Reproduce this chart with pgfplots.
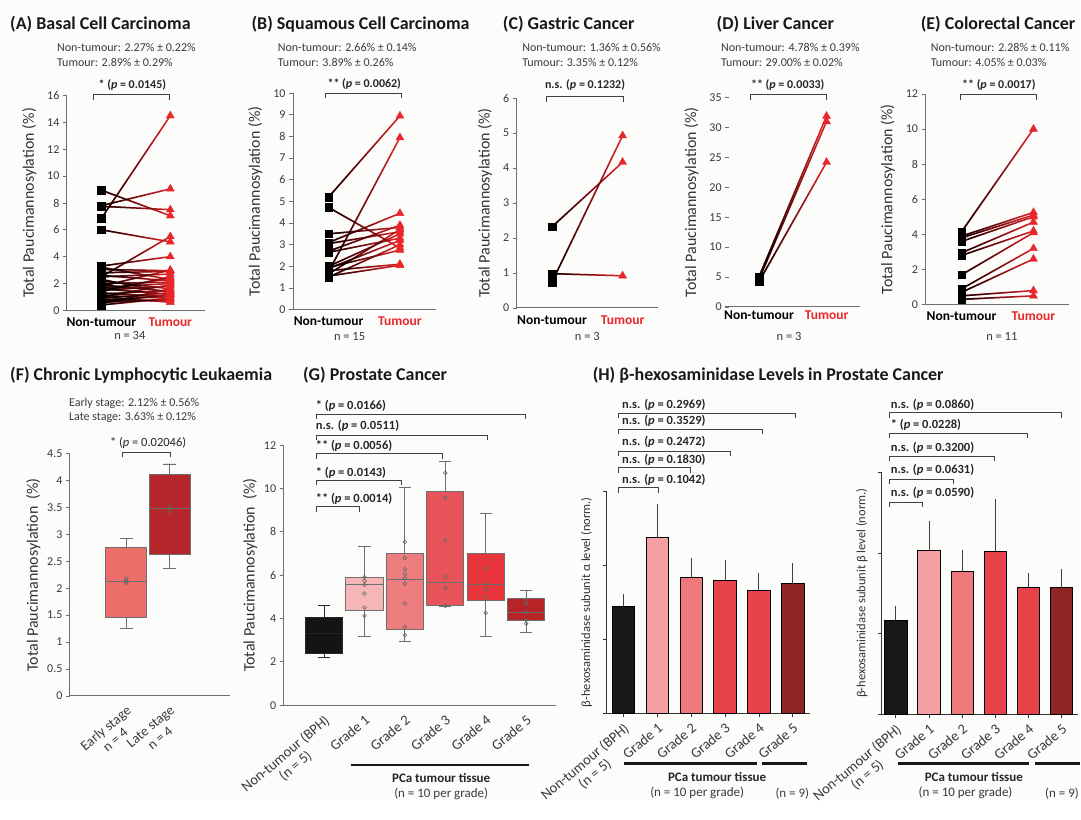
\documentclass[border=0pt]{standalone}
\usepackage{pgfplots}
\pgfplotsset{compat=1.18}
\usepackage{pgfplotstable}
\usepgfplotslibrary{statistics}
\usetikzlibrary{fadings}
\usepackage{fontspec}
\setmainfont{Carlito}
\definecolor{bg}{HTML}{FCFCFA}
\definecolor{tred}{HTML}{E8262B}
\definecolor{lred}{HTML}{E82025}
\definecolor{txt}{HTML}{3A3A3A}
\definecolor{axc}{HTML}{6E6E6E}
\definecolor{fE}{HTML}{EC6F6C}
\definecolor{fL}{HTML}{B5262A}
\definecolor{g0}{HTML}{141414}
\definecolor{g1}{HTML}{F6B6B8}
\definecolor{g2}{HTML}{EE7D80}
\definecolor{g3}{HTML}{E9545A}
\definecolor{g4}{HTML}{E8353B}
\definecolor{g5}{HTML}{B62427}
\definecolor{h0}{HTML}{161816}
\definecolor{h1}{HTML}{F49FA3}
\definecolor{h2}{HTML}{EE797D}
\definecolor{h3}{HTML}{E8434A}
\definecolor{h4}{HTML}{E8434A}
\definecolor{h5}{HTML}{8E2424}

% paired data: non-tumour (nt) and tumour (t)
\pgfplotstableread{
nt t
6.85 14.5
8.95 7.05
7.8 9.05
7.75 7.5
6.0 5.1
2.5 5.5
3.3 4.0
3.05 2.95
2.8 2.9
2.6 2.2
2.5 2.7
2.2 1.6
2.0 2.1
1.9 1.4
1.8 3.0
1.7 2.0
1.6 1.2
1.5 1.8
1.4 2.5
1.3 1.0
1.2 1.5
1.1 0.9
1.0 1.9
0.9 1.3
0.8 0.7
0.7 1.1
0.6 0.8
0.5 1.6
0.4 0.9
1.5 2.4
2.3 1.3
1.0 0.6
3.2 2.3
0.6 1.2
}\dataA
\pgfplotstableread{
nt t
5.2 8.95
4.72 2.85
1.75 7.95
3.5 3.8
3.1 4.45
3.05 3.6
2.7 3.9
2.65 3.3
2.0 3.5
1.9 3.2
1.8 2.1
1.65 3.7
1.55 2.05
1.5 3.0
1.95 2.75
}\dataB
\pgfplotstableread{
nt t
2.32 4.17
0.74 4.93
0.98 0.92
}\dataC
\pgfplotstableread{
nt t
5.0 31.9
4.6 31.0
4.2 24.2
}\dataD
\pgfplotstableread{
nt t
4.15 10.0
3.9 5.25
3.8 5.1
3.6 5.0
2.95 4.7
2.8 4.2
1.7 4.1
0.9 3.2
0.7 2.6
0.5 0.8
0.3 0.5
}\dataE

\pgfplotsset{
  top/.style={scale only axis, anchor=south west, clip=false,
    axis x line*=bottom, axis y line*=left,
    axis line style={-, axc, line width=0.9pt},
    xmin=0.5, xmax=2.5, ymin=0,
    xtick={1,2}, xticklabels={Non-tumour, {\color{tred}Tumour}},
    x tick label style={font=\fontsize{13.5}{15}\selectfont\bfseries, text=black},
    major x tick style={draw=none},
    tick align=outside, major tick length=4pt,
    y tick style={axc, line width=0.7pt},
    y tick label style={font=\fontsize{12}{14}\selectfont, text=txt},
    ylabel={Total Paucimannosylation (\%)},
    ylabel style={font=\fontsize{16}{18}\selectfont, text=black!80, yshift=4pt},
    /pgf/number format/assume math mode=true,
  },
  lines/.style={quiver={u=1, v=\thisrow{t}-\thisrow{nt}}, line width=1.5pt, no markers},
  fadelines/.style={quiver={u=1, v=\thisrow{t}-\thisrow{nt}, every arrow/.append style={path fading=east}}, line width=1.5pt, no markers, black},
  sq/.style={only marks, mark=square*, mark size=3.8pt, black},
  tri/.style={only marks, mark=triangle*, mark size=4.6pt, tred},
  bottom/.style={scale only axis, anchor=south west, clip=false,
    axis x line*=bottom, axis y line*=left,
    axis line style={-, axc, line width=0.9pt},
    ymin=0,
    x tick label style={rotate=40, anchor=north east, align=center, font=\fontsize{14.5}{15.5}\selectfont, text=txt},
    tick align=outside, major tick length=4pt,
    tick style={axc, line width=0.7pt},
    y tick label style={font=\fontsize{12}{14}\selectfont, text=txt},
    ylabel style={font=\fontsize{16}{18}\selectfont, text=black!80},
    /pgf/number format/assume math mode=true,
  },
  bx/.style={boxplot prepared={#1, whisker extend=0.3, draw direction=y}, draw=axc, line width=0.9pt},
  pts/.style={only marks, mark=o, mark size=1.9pt, draw=black!60, mark options={line width=0.6pt}},
  hb/.style={ybar, bar shift=0pt, bar width=#1, draw=black, line width=0.7pt,
    error bars/y dir=plus, error bars/y explicit,
    error bars/error bar style={black!75, line width=0.9pt},
    error bars/error mark options={black!75, mark size=6pt, line width=0.9pt}},
  hax/.style={bottom, axis line style={-, black!80, line width=0.9pt},
    tick style={black!80, line width=0.8pt},
    xmin=-0.5, xmax=5.5, ymax=1.5, ytick={0,0.5,1,1.5}, yticklabels={},
    xtick={0,1,2,3,4,5},
    xticklabels={{Non-tumour (BPH)\\(n = 5)},Grade 1,Grade 2,Grade 3,Grade 4,Grade 5},
    ylabel style={font=\fontsize{12.5}{14}\selectfont, text=black!80}},
}

\tikzset{brk/.style={line width=0.9pt, black!75}}
\newcommand{\brk}[3]{\draw[brk] (#1,#3+5) -- (#1,#3) -- (#2,#3) -- (#2,#3+5);}

\begin{document}
\begin{tikzpicture}
\begin{scope}[x=1pt,y=-1pt]
\useasboundingbox (0,0) rectangle (1081,801);
\fill[bg] (0,0) rectangle (1081,801);
\end{scope}

% (A)
\begin{axis}[top, at={(67pt,-310.7pt)}, width=138pt, height=215pt, ymax=16, ytick={0,2,4,6,8,10,12,14,16}]
\addplot[lines, lred] table[x expr=1, y=nt] {\dataA};
\addplot[fadelines] table[x expr=1, y=nt] {\dataA};
\addplot[sq] table[x expr=1, y=nt] {\dataA};
\addplot[tri] table[x expr=2, y=t] {\dataA};
\end{axis}
% (B)
\begin{axis}[top, at={(293.3pt,-310pt)}, width=142.8pt, height=216.7pt, ymax=10, ytick={0,1,2,3,4,5,6,7,8,9,10}]
\addplot[lines, lred] table[x expr=1, y=nt] {\dataB};
\addplot[fadelines] table[x expr=1, y=nt] {\dataB};
\addplot[sq] table[x expr=1, y=nt] {\dataB};
\addplot[tri] table[x expr=2, y=t] {\dataB};
\end{axis}
% (C)
\begin{axis}[top, at={(517.3pt,-308.3pt)}, width=141.4pt, height=210pt, ymax=6, ytick={0,1,2,3,4,5,6}]
\addplot[lines, lred] table[x expr=1, y=nt] {\dataC};
\addplot[fadelines] table[x expr=1, y=nt] {\dataC};
\addplot[sq] table[x expr=1, y=nt] {\dataC};
\addplot[tri] table[x expr=2, y=t] {\dataC};
\end{axis}
% (D)
\begin{axis}[top, at={(726pt,-307.3pt)}, width=135.4pt, height=209.6pt, ymax=35, ytick={0,5,10,15,20,25,30,35},
  y axis line style={draw=none}, tick align=inside]
\addplot[lines, lred] table[x expr=1, y=nt] {\dataD};
\addplot[fadelines] table[x expr=1, y=nt] {\dataD};
\addplot[sq] table[x expr=1, y=nt] {\dataD};
\addplot[tri] table[x expr=2, y=t] {\dataD};
\end{axis}
% (E)
\begin{axis}[top, at={(926.7pt,-305pt)}, width=144pt, height=211pt, ymax=12, ytick={0,2,4,6,8,10,12}]
\addplot[lines, lred] table[x expr=1, y=nt] {\dataE};
\addplot[fadelines] table[x expr=1, y=nt] {\dataE};
\addplot[sq] table[x expr=1, y=nt] {\dataE};
\addplot[tri] table[x expr=2, y=t] {\dataE};
\end{axis}

% (F)
\begin{axis}[bottom, at={(70pt,-696.7pt)}, width=160pt, height=242.4pt,
  xmin=-0.288, xmax=3.373, ymax=4.5, ytick={0,0.5,1,1.5,2,2.5,3,3.5,4,4.5},
  xtick={1,2}, xticklabels={{Early stage\\n = 4},{Late stage\\n = 4}}, major x tick style={draw=none},
  x tick label style={font=\fontsize{14}{15}\selectfont},
  ylabel={Total Paucimannosylation\ \ (\%)}]
\addplot[bx={draw position=1, lower whisker=1.25, lower quartile=1.46, median=2.13, upper quartile=2.75, upper whisker=2.93, box extend=0.93}, fill=fE] coordinates {};
\addplot[bx={draw position=2, lower whisker=2.36, lower quartile=2.62, median=3.48, upper quartile=4.12, upper whisker=4.31, box extend=0.93}, fill=fL] coordinates {};
\addplot[pts] coordinates {(1,2.10) (1,2.14) (1,2.18) (2,3.43) (2,3.50)};
\end{axis}

% (G)
\begin{axis}[bottom, at={(284pt,-706pt)}, width=272.7pt, height=260.3pt,
  xmin=-1.0, xmax=5.74, ymax=12, ytick={0,2,4,6,8,10,12},
  xtick={0,1,2,3,4,5}, xticklabels={{Non-tumour (BPH)\\(n = 5)},Grade 1,Grade 2,Grade 3,Grade 4,Grade 5},
  major x tick style={draw=none},
  ylabel={Total Paucimannosylation\ \ (\%)}]
\addplot[bx={draw position=0, lower whisker=2.20, lower quartile=2.40, median=3.30, upper quartile=4.04, upper whisker=4.58, box extend=0.92}, fill=g0, draw=black!85] coordinates {};
\addplot[bx={draw position=1, lower whisker=3.16, lower quartile=4.38, median=5.55, upper quartile=5.88, upper whisker=7.31, box extend=0.92}, fill=g1] coordinates {};
\addplot[bx={draw position=2, lower whisker=2.93, lower quartile=3.50, median=5.78, upper quartile=6.99, upper whisker=10.03, box extend=0.92}, fill=g2] coordinates {};
\addplot[bx={draw position=3, lower whisker=4.55, lower quartile=4.58, median=5.65, upper quartile=9.88, upper whisker=11.26, box extend=0.92}, fill=g3] coordinates {};
\addplot[bx={draw position=4, lower whisker=3.16, lower quartile=4.81, median=5.55, upper quartile=7.00, upper whisker=8.83, box extend=0.92}, fill=g4] coordinates {};
\addplot[bx={draw position=5, lower whisker=3.35, lower quartile=3.89, median=4.30, upper quartile=4.92, upper whisker=5.31, box extend=0.92}, fill=g5] coordinates {};
\addplot[pts] coordinates {(1,5.91) (1,5.73) (1,5.55) (1,5.15) (1,4.50) (1,4.12)
 (2,7.53) (2,6.80) (2,6.27) (2,6.04) (2,5.85) (2,5.61) (2,4.69) (2,3.61) (2,3.23)
 (3,10.72) (3,9.57) (3,7.60) (3,5.93) (3,5.39) (3,4.58)
 (4,6.31) (4,5.61) (4,5.35) (4,4.99) (4,4.25)
 (5,4.84) (5,4.65) (5,4.27) (5,3.93) (5,3.76)};
\end{axis}

% (H) alpha
\begin{axis}[hax, at={(607.3pt,-714pt)}, width=203.4pt, height=222.3pt,
  ylabel={β-hexosaminidase subunit α level (norm.)}]
\addplot[fill=h0, hb=22.7pt] coordinates {(0,0.724) +- (0,0.041)};
\addplot[fill=h1, hb=22.7pt] coordinates {(1,1.190) +- (0,0.184)};
\addplot[fill=h2, hb=22.7pt] coordinates {(2,0.915) +- (0,0.095)};
\addplot[fill=h3, hb=22.7pt] coordinates {(3,0.897) +- (0,0.095)};
\addplot[fill=h4, hb=22.7pt] coordinates {(4,0.830) +- (0,0.078)};
\addplot[fill=h5, hb=22.7pt] coordinates {(5,0.875) +- (0,0.099)};
\end{axis}

% (H) beta
\begin{axis}[hax, at={(883pt,-715pt)}, width=196.5pt, height=242pt, xmin=-0.42,
  ylabel={β-hexosaminidase subunit β level (norm.)}]
\addplot[fill=h0, hb=22.4pt] coordinates {(0,0.585) +- (0,0.049)};
\addplot[fill=h1, hb=22.4pt] coordinates {(1,1.019) +- (0,0.142)};
\addplot[fill=h2, hb=22.4pt] coordinates {(2,0.885) +- (0,0.099)};
\addplot[fill=h3, hb=22.4pt] coordinates {(3,1.011) +- (0,0.285)};
\addplot[fill=h4, hb=22.4pt] coordinates {(4,0.789) +- (0,0.052)};
\addplot[fill=h5, hb=22.4pt] coordinates {(5,0.785) +- (0,0.079)};
\end{axis}

\begin{scope}[x=1pt,y=-1pt]
\tikzset{ttl/.style={anchor=west, inner sep=0pt, font=\fontsize{18}{20}\selectfont\bfseries, text=black!90},
  st/.style={anchor=west, inner sep=0pt, font=\fontsize{12}{14}\selectfont, text=txt},
  pl/.style={inner sep=0pt, font=\fontsize{12}{14}\selectfont\bfseries, text=black!85},
  nn/.style={inner sep=0pt, font=\fontsize{12.5}{14}\selectfont, text=txt},
  bl/.style={anchor=west, inner sep=0pt, font=\fontsize{12.5}{14}\selectfont\bfseries, text=black!85}}
\node[ttl] at (10,24) {(A) Basal Cell Carcinoma};
\node[ttl] at (251.7,24) {(B) Squamous Cell Carcinoma};
\node[ttl] at (503.3,24) {(C) Gastric Cancer};
\node[ttl] at (717.3,24) {(D) Liver Cancer};
\node[ttl] at (921.7,24) {(E) Colorectal Cancer};
\node[ttl] at (10,375.7) {(F) Chronic Lymphocytic Leukaemia};
\node[ttl] at (303.3,375.7) {(G) Prostate Cancer};
\node[ttl] at (593.3,375.7) {(H) β-hexosaminidase Levels in Prostate Cancer};
% stats
\node[st] at (57,47.5) {Non-tumour: 2.27\% ± 0.22\%};
\node[st] at (57,62.3) {Tumour: 2.89\% ± 0.29\%};
\node[st] at (278,47.5) {Non-tumour: 2.66\% ± 0.14\%};
\node[st] at (278,62.3) {Tumour: 3.89\% ± 0.26\%};
\node[st] at (522.7,47.5) {Non-tumour: 1.36\% ± 0.56\%};
\node[st] at (522.7,62.3) {Tumour: 3.35\% ± 0.12\%};
\node[st] at (721.7,47.5) {Non-tumour: 4.78\% ± 0.39\%};
\node[st] at (721.7,62.3) {Tumour: 29.00\% ± 0.02\%};
\node[st] at (931.7,47.5) {Non-tumour: 2.28\% ± 0.11\%};
\node[st] at (931.7,62.3) {Tumour: 4.05\% ± 0.03\%};
\node[st] at (69,404) {Early stage: 2.12\% ± 0.56\%};
\node[st] at (69,418) {Late stage: 3.63\% ± 0.12\%};
% brackets top
\brk{94}{170}{95}\node[pl] at (132.5,85) {* (\textit{p} = 0.0145)};
\brk{326}{402}{93.3}\node[pl] at (364.7,84) {** (\textit{p} = 0.0062)};
\brk{547.3}{624}{96.7}\node[pl] at (585.7,85) {n.s. (\textit{p} = 0.1232)};
\brk{751}{827.7}{95}\node[pl] at (788.7,85) {** (\textit{p} = 0.0033)};
\brk{961.7}{1037.7}{95}\node[pl] at (1000,85) {** (\textit{p} = 0.0017)};
% n labels
\node[nn] at (130,336) {n = 34};
\node[nn] at (350,337) {n = 15};
\node[nn] at (588,337) {n = 3};
\node[nn] at (790,337) {n = 3};
\node[nn] at (1003,337) {n = 11};
% F bracket
\brk{122.7}{170.7}{453}\node[nn, text=black!85] at (148.3,443) {* (\textit{p} = 0.02046)};
% G brackets
\brk{316.7}{526}{415}\node[bl] at (316,406.7) {* (\textit{p} = 0.0166)};
\brk{316.7}{488}{436}\node[bl] at (316,426.7) {n.s. (\textit{p} = 0.0511)};
\brk{316.7}{443}{454.3}\node[bl] at (316,446.7) {** (\textit{p} = 0.0056)};
\brk{316.7}{402}{481}\node[bl] at (316,473) {* (\textit{p} = 0.0143)};
\brk{316.7}{360}{507.3}\node[bl] at (316,499) {** (\textit{p} = 0.0014)};
% H left brackets
\brk{619}{796}{414}\node[bl] at (622.7,405.7) {n.s. (\textit{p} = 0.2969)};
\brk{619}{763.3}{430}\node[bl] at (622.7,421) {n.s. (\textit{p} = 0.3529)};
\brk{619}{731.7}{451.7}\node[bl] at (622.7,442.3) {n.s. (\textit{p} = 0.2472)};
\brk{619}{691.7}{468.3}\node[bl] at (622.7,460) {n.s. (\textit{p} = 0.1830)};
\brk{619}{659.3}{488.3}\node[bl] at (622.7,480) {n.s. (\textit{p} = 0.1042)};
% H right brackets
\brk{890.7}{1062.3}{413.3}\node[bl] at (891.7,405) {n.s. (\textit{p} = 0.0860)};
\brk{890.7}{1028.3}{434}\node[bl] at (891.7,425) {* (\textit{p} = 0.0228)};
\brk{890.7}{995.7}{456.7}\node[bl] at (891.7,448.3) {n.s. (\textit{p} = 0.3200)};
\brk{890.7}{954.3}{480}\node[bl] at (891.7,470) {n.s. (\textit{p} = 0.0631)};
\brk{890.7}{923.3}{502.7}\node[bl] at (891.7,493.3) {n.s. (\textit{p} = 0.0590)};
% group lines
\draw[line width=2.6pt, black!90] (351.7,766) -- (530,766);
\node[nn, font=\fontsize{13}{15}\selectfont\bfseries, text=black!85] at (441.7,779) {PCa tumour tissue};
\node[nn, font=\fontsize{13}{15}\selectfont] at (441.7,795) {(n = 10 per grade)};
\draw[line width=2.6pt, black!90] (625,764.3) -- (758.3,764.3);
\draw[line width=2.6pt, black!90] (762.7,764.3) -- (808,764.3);
\node[nn, font=\fontsize{13}{15}\selectfont\bfseries, text=black!85] at (718,777.7) {PCa tumour tissue};
\node[nn, font=\fontsize{13}{15}\selectfont] at (698,794.3) {(n = 10 per grade)};
\node[nn, font=\fontsize{13}{15}\selectfont] at (793.3,794.3) {(n = 9)};
\draw[line width=2.6pt, black!90] (899.3,764.3) -- (1030,764.3);
\draw[line width=2.6pt, black!90] (1036.7,764.3) -- (1081,764.3);
\node[nn, font=\fontsize{13}{15}\selectfont\bfseries, text=black!85] at (975,777.7) {PCa tumour tissue};
\node[nn, font=\fontsize{13}{15}\selectfont] at (966.7,794.3) {(n = 10 per grade)};
\node[nn, font=\fontsize{13}{15}\selectfont] at (1063.3,794.3) {(n = 9)};
\end{scope}
\end{tikzpicture}
\end{document}
